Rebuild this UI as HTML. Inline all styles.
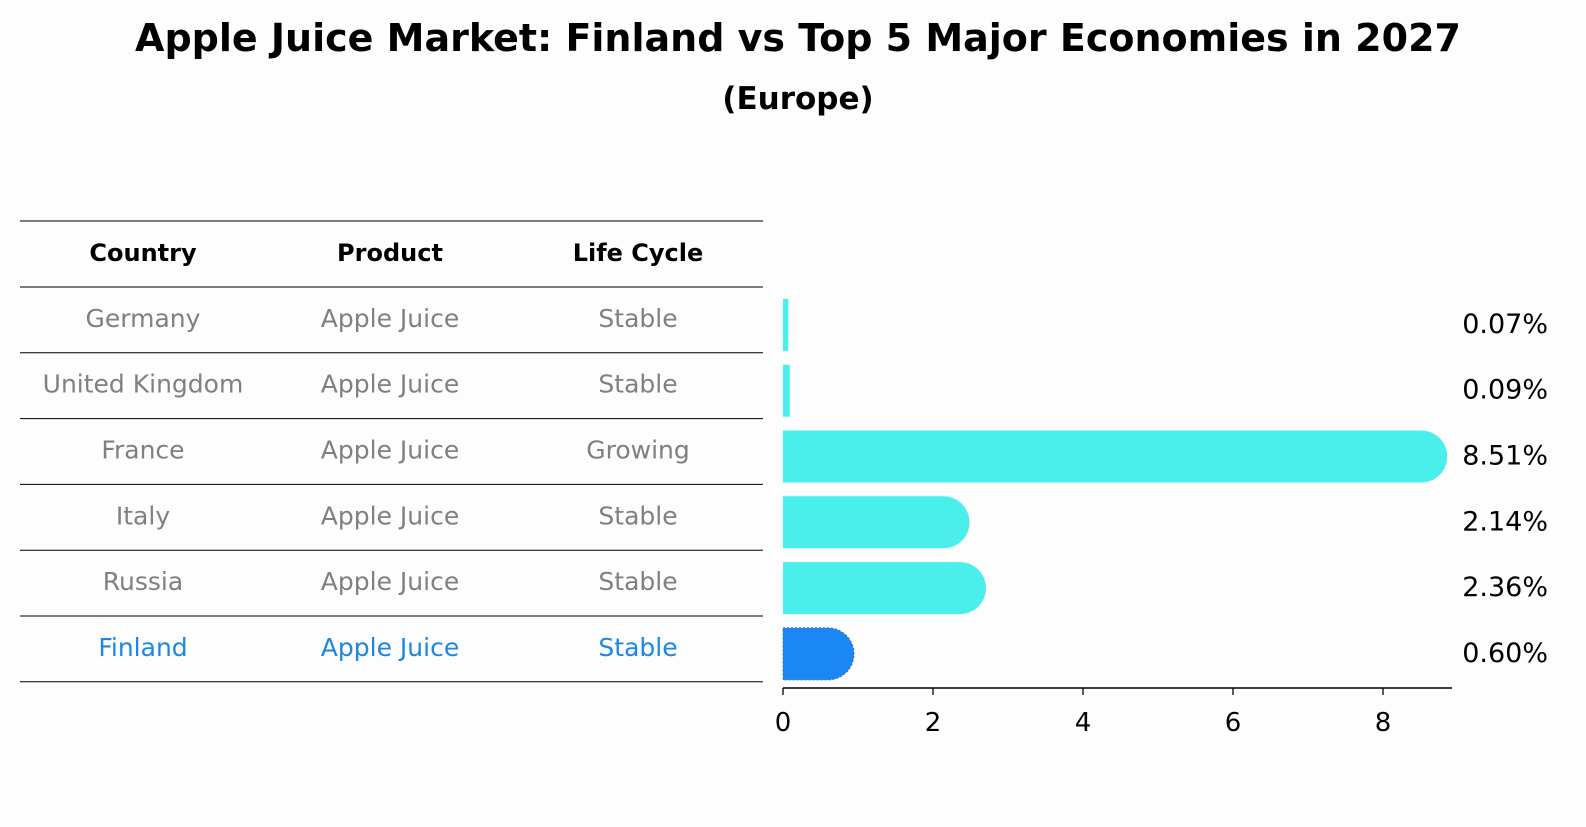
<!DOCTYPE html>
<html><head><meta charset="utf-8"><style>
body{margin:0;background:#fdfdfd;font-family:"DejaVu Sans","Liberation Sans",sans-serif}
svg text{font-family:"DejaVu Sans","Liberation Sans",sans-serif}
</style></head><body>
<svg id="c" width="1586" height="823" xmlns="http://www.w3.org/2000/svg">
<rect width="1586" height="823" fill="#fdfdfd"/>
<text x="798" y="51" text-anchor="middle" font-size="38" font-weight="bold">Apple Juice Market: Finland vs Top 5 Major Economies in 2027</text>
<text x="798" y="109" text-anchor="middle" font-size="31" font-weight="bold">(Europe)</text>
<g id="table"></g>
<g id="bars"></g>
</svg>
<script>
const countries=["Germany","United Kingdom","France","Italy","Russia","Finland"];
const products=["Apple Juice","Apple Juice","Apple Juice","Apple Juice","Apple Juice","Apple Juice"];
const lifecycles=["Stable","Stable","Growing","Stable","Stable","Stable"];
const values=[0.07,0.09,8.51,2.14,2.36,0.60];
const xTicks=[0,2,4,6,8];
const NS="http://www.w3.org/2000/svg";
function mk(tag,attrs,parent,text){const e=document.createElementNS(NS,tag);for(const k in attrs)e.setAttribute(k,attrs[k]);if(text!==undefined)e.textContent=text;parent.appendChild(e);return e;}
const tbl=document.getElementById('table');
const bars=document.getElementById('bars');
const x0=783,scale=75,rowTop=287,rowH=65.8,barH=52;
const xs=v=>x0+v*scale;
const yRow=i=>rowTop+i*rowH;
for(let i=0;i<=7;i++){
 const y=i==0?221:rowTop+(i-1)*rowH;
 const l=mk('line',{x1:20,x2:763,y1:y,y2:y,stroke:'#000','stroke-width':1},tbl);
 
 
}
const colX=[143,390,638];
["Country","Product","Life Cycle"].forEach((h,j)=>{
 const t=mk('text',{x:colX[j],y:261,'text-anchor':'middle','font-size':24,'font-weight':'bold'},tbl,h);
 
 
});
countries.forEach((c,i)=>{
 const col=c==="Finland"?"#1a87e6":"#808080";
 const cy=yRow(i)+rowH/2+7;
 [c,products[i],lifecycles[i]].forEach((v,j)=>{
  const t=mk('text',{x:colX[j],y:cy,'text-anchor':'middle','font-size':25,fill:col},tbl,v);
  
  
 });
 const bt=yRow(i)+(rowH-barH)/2+5;
 const w=values[i]*scale;
 const fill=c==="Finland"?"#1a87f5":"#4aeeea";
 let d;
 const r=barH/2;
 if(w>r){d=`M${x0},${bt} H${x0+w} A${r},${r} 0 0 1 ${x0+w},${bt+barH} H${x0} Z`;}
 else{d=`M${x0},${bt} H${x0+w} V${bt+barH} H${x0} Z`;}
 const b=mk('path',{d:d,fill:fill},bars);
 if(c==="Finland"){b.setAttribute('stroke','#3b6fb8');b.setAttribute('stroke-dasharray','2,2');b.setAttribute('stroke-width','1');}
 
 
 const lt=mk('text',{x:1548,y:bt+barH/2+8,'text-anchor':'end','font-size':27},bars,values[i].toFixed(2)+'%');
 
 
});
const ax=mk('line',{x1:x0,x2:1452,y1:688,y2:688,stroke:'#000','stroke-width':1.5},bars);


xTicks.forEach(v=>{
 const tk=mk('line',{x1:xs(v),x2:xs(v),y1:688,y2:695,stroke:'#000','stroke-width':1.3},bars);
 
 
 const tl=mk('text',{x:xs(v),y:731,'text-anchor':'middle','font-size':26},bars,String(v));
 
 
});
</script>
</body></html>
